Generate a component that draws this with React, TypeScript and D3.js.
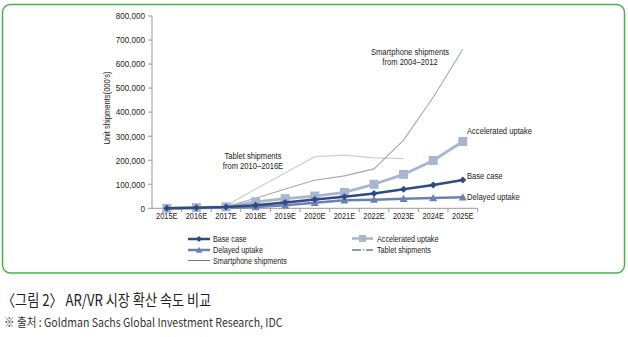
import React from "react";
import * as d3 from "d3";

const categories = ["2015E","2016E","2017E","2018E","2019E","2020E","2021E","2022E","2023E","2024E","2025E"];
const baseCase = [0, 2000, 5000, 13000, 24000, 37000, 48000, 62000, 79000, 97000, 118000];
const accelerated = [0, 3000, 6000, 27000, 40000, 51000, 66000, 100000, 141000, 199000, 278000];
const delayed = [0, 1000, 2000, 5000, 13000, 23000, 33000, 36000, 40000, 43000, 46000];
const smartphone = [null, null, 7000, 42000, 80000, 117000, 135000, 164000, 284000, 462000, 662000];
const tablet = [null, null, 10000, 80000, 147000, 215000, 221000, 210000, 207000, null, null];
const yTicks = [0, 100000, 200000, 300000, 400000, 500000, 600000, 700000, 800000];

const FONT = "'Liberation Sans', Arial, sans-serif";
const KFONT = "'Noto Sans CJK KR', sans-serif";

function T(props: {
  x: number; y: number; size: number; sx?: number; anchor?: string; dy?: string; fill?: string; rotate?: number; family?: string; children: React.ReactNode;
}) {
  const { x, y, size, sx = 0.8, anchor = "start", dy, fill = "#222", rotate = 0, family = FONT, children } = props;
  return (
    <text
      transform={`translate(${x},${y}) rotate(${rotate}) scale(${sx},1)`}
      textAnchor={anchor}
      dy={dy}
      fontSize={size}
      fill={fill}
      style={{ fontFamily: family }}
    >
      {children}
    </text>
  );
}

export default function App() {
  const x = d3.scaleBand<string>().domain(categories).range([152, 477.6]);
  const y = d3.scaleLinear().domain([0, 800000]).range([208.3, 16]);
  const cx = (c: string) => (x(c) as number) + x.bandwidth() / 2;

  const line = d3
    .line<number | null>()
    .defined((d) => d !== null)
    .x((_, i) => cx(categories[i]))
    .y((d) => y(d as number));

  const cBase = "#2f4b83";
  const cAcc = "#a7b5cf";
  const cDel = "#6a82b2";
  const cPhone = "#a9a9a9";
  const cTab = "#cfcfcf";

  const diamond = (px: number, py: number, s: number) =>
    `M${px},${py - s}L${px + s},${py}L${px},${py + s}L${px - s},${py}Z`;
  const tri = (px: number, py: number, s: number) =>
    `M${px},${py - s}L${px + s},${py + s * 0.8}L${px - s},${py + s * 0.8}Z`;

  return (
    <div style={{ position: "absolute", left: 0, top: 0 }}>
      <svg width={628} height={337} style={{ display: "block", fontFamily: FONT }}>
        <rect x={0} y={0} width={628} height={337} fill="#fff" />
        <rect x={2.5} y={4.5} width={622} height={268.5} rx={8} fill="none" stroke="#4bb04b" strokeWidth={1.5} />

        {/* y axis */}
        <line x1={152} x2={152} y1={16} y2={208.3} stroke="#999" />
        {yTicks.map((t) => (
          <g key={t}>
            <line x1={148} x2={152} y1={y(t)} y2={y(t)} stroke="#999" />
            <T x={145} y={y(t)} dy="0.35em" anchor="end" size={9.5} sx={0.85}>
              {d3.format(",")(t)}
            </T>
          </g>
        ))}
        <T x={110} y={108} rotate={-90} anchor="middle" size={9.5} sx={0.8}>
          Unit shipments(000's)
        </T>

        {/* x axis */}
        <line x1={152} x2={477.6} y1={208.3} y2={208.3} stroke="#999" />
        {categories.map((c, i) => (
          <line key={"t" + i} x1={(x(c) as number) + x.bandwidth()} x2={(x(c) as number) + x.bandwidth()} y1={208.3} y2={212} stroke="#999" />
        ))}
        {categories.map((c) => (
          <T key={c} x={cx(c)} y={219} anchor="middle" size={9.5} sx={0.78}>
            {c}
          </T>
        ))}

        {/* series */}
        <path d={line(tablet) || ""} fill="none" stroke={cTab} strokeWidth={1.2} />
        <path d={line(smartphone) || ""} fill="none" stroke={cPhone} strokeWidth={1.1} />
        <path d={line(delayed) || ""} fill="none" stroke={cDel} strokeWidth={2.5} />
        {delayed.map((v, i) => (
          <path key={"d" + i} d={tri(cx(categories[i]), y(v), 4)} fill={cDel} />
        ))}
        <path d={line(accelerated) || ""} fill="none" stroke={cAcc} strokeWidth={2.8} />
        {accelerated.map((v, i) => (
          <rect key={"a" + i} x={cx(categories[i]) - 4.5} y={y(v) - 4.5} width={9} height={9} fill={cAcc} />
        ))}
        <path d={line(baseCase) || ""} fill="none" stroke={cBase} strokeWidth={2.5} />
        {baseCase.map((v, i) => (
          <path key={"b" + i} d={diamond(cx(categories[i]), y(v), 3.5)} fill={cBase} />
        ))}

        {/* annotations */}
        <T x={410} y={55} anchor="middle" size={9.5}>Smartphone shipments</T>
        <T x={410} y={65} anchor="middle" size={9.5}>from 2004–2012</T>
        <T x={253} y={159} anchor="middle" size={9.5}>Tablet shipments</T>
        <T x={253} y={169} anchor="middle" size={9.5}>from 2010–2016E</T>
        <T x={467} y={134} size={9.5}>Accelerated uptake</T>
        <T x={467} y={179} size={9.5}>Base case</T>
        <T x={467} y={200} size={9.5}>Delayed uptake</T>

        {/* legend */}
        <g>
          <line x1={188} x2={210} y1={239} y2={239} stroke={cBase} strokeWidth={2.5} />
          <path d={diamond(199, 239, 3)} fill={cBase} />
          <T x={213} y={239} dy="0.35em" size={9}>Base case</T>

          <line x1={188} x2={210} y1={250} y2={250} stroke={cDel} strokeWidth={2.5} />
          <path d={tri(199, 250, 3.3)} fill={cDel} />
          <T x={213} y={250} dy="0.35em" size={9}>Delayed uptake</T>

          <line x1={188} x2={210} y1={260.5} y2={260.5} stroke="#777" strokeWidth={1} />
          <T x={213} y={260.5} dy="0.35em" size={9}>Smartphone shipments</T>

          <line x1={352} x2={373} y1={238.5} y2={238.5} stroke={cAcc} strokeWidth={2.5} />
          <rect x={359} y={235} width={7} height={7} fill={cAcc} />
          <T x={377} y={238.5} dy="0.35em" size={9}>Accelerated uptake</T>

          <line x1={352} x2={373} y1={250} y2={250} stroke="#333" strokeWidth={1} strokeDasharray="9,2,1,2,9" />
          <T x={377} y={250} dy="0.35em" size={9}>Tablet shipments</T>
        </g>

        {/* caption */}
        <T x={2} y={306} size={16} sx={0.82} family={KFONT}>
          〈그림 2〉 AR/VR 시장 확산 속도 비교
        </T>
        <T x={4} y={327} size={12} sx={0.88} family={KFONT} fill="#333">
          ※ 출처 : Goldman Sachs Global Investment Research, IDC
        </T>
      </svg>
    </div>
  );
}
